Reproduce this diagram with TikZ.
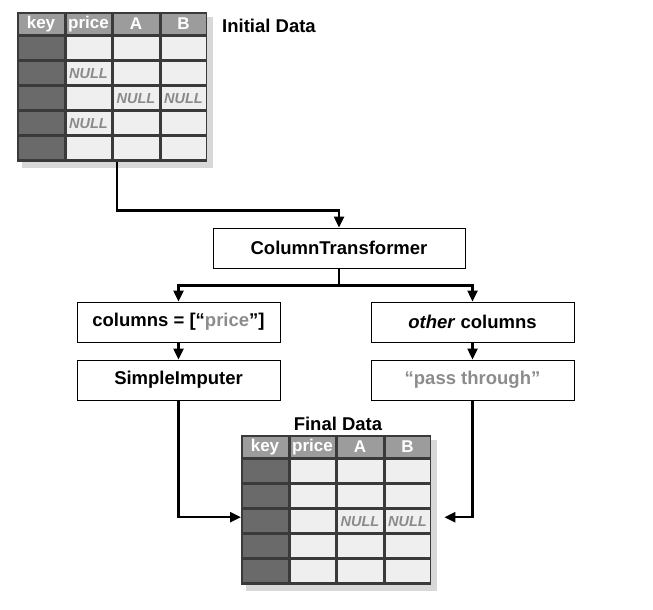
\documentclass[tikz,border=0pt]{standalone}
\usepackage{fontspec}
\setmainfont{Liberation Sans}
\usetikzlibrary{arrows.meta}
\definecolor{framec}{HTML}{3A3A3A}
\definecolor{keyc}{HTML}{6A6A6A}
\definecolor{headc}{HTML}{9C9C9C}
\definecolor{cellc}{HTML}{EFEFEF}
\definecolor{shadowc}{HTML}{D8D8D8}
\definecolor{nullc}{HTML}{8A8A8A}
\definecolor{quotec}{HTML}{8C8C8C}
\tikzset{
  hdr/.style={text=white,font=\fontsize{17}{19}\selectfont\bfseries,inner sep=0},
  nulltxt/.style={text=nullc,font=\fontsize{14.5}{16}\selectfont\bfseries\itshape,inner sep=0},
  title/.style={font=\fontsize{18.5}{21}\selectfont\bfseries,inner sep=0},
  box/.style={draw,line width=1pt,minimum height=40pt,inner sep=0,font=\fontsize{18.5}{21}\selectfont\bfseries},
  conn/.style={line width=2.4pt,-{Triangle[width=10pt,length=11pt]}},
}
\newcommand\datatable[4]{%
 \begin{scope}[shift={(#2,#3)}]
  \fill[shadowc] (5,5) rectangle (196,156);
  \node[fill=framec,inner sep=0,minimum width=190pt,minimum height=150pt,anchor=north west] (#1) at (0,0) {};
  \foreach \xa/\xb [count=\c] in {0/48,48/95,95/143,143/190} {
    \fill[headc] (\xa+2,2) rectangle (\xb-1.5,22);
    \foreach \r in {0,...,4} {
      \ifnum\c=1
        \fill[keyc] (\xa+2,25+25*\r) rectangle (\xb-1.5,47+25*\r);
      \else
        \fill[cellc] (\xa+2,25+25*\r) rectangle (\xb-1.5,47+25*\r);
      \fi
    }
  }
  \node[hdr] (#1-hkey) at (24,12) {key};
  \node[hdr] (#1-hprice) at (71.5,12) {price};
  \node[hdr] (#1-hA) at (119,12) {A};
  \node[hdr] (#1-hB) at (166.5,12) {B};
  \foreach \cx/\r [count=\k] in {#4} {
    \node[nulltxt] (#1-null\k) at (\cx,11.5+25*\r) {NULL};
  }
 \end{scope}}
\begin{document}
\begin{tikzpicture}[x=1pt,y=-1pt]
\useasboundingbox (0,0) rectangle (653,610);
\fill[white] (0,0) rectangle (653,610);

\datatable{init}{17}{12}{71.5/2,119/3,166.5/3,71.5/4}
\node[title,anchor=west] (inittitle) at (222,26) {Initial Data};

\node[box,minimum width=252pt] (ct) at (339,248) {ColumnTransformer};
\node[box,minimum width=203pt] (cols) at (178.5,322) {columns = [“\textcolor{quotec}{price}”]};
\node[box,minimum width=203pt] (other) at (472.5,322) {\textit{other} columns};
\node[box,minimum width=203pt] (imp) at (178.5,380) {SimpleImputer};
\node[box,minimum width=203pt] (pass) at (472.5,380) {\textcolor{quotec}{“pass through”}};

\datatable{final}{241}{435}{119/3,166.5/3}
\node[title] (finaltitle) at (338,424) {Final Data};

\draw[conn] ([xshift=5pt]init.south) -- ++(0,48) -| (ct.north);
\draw[conn] (ct.south) -- ++(0,17) -| (cols.north);
\draw[conn] (ct.south) -- ++(0,17) -| (other.north);
\draw[conn] (cols.south) -- (imp.north);
\draw[conn] (other.south) -- (pass.north);
\draw[conn] (imp.south) |- ([yshift=-7pt]final.west);
\draw[conn] (pass.south) |- ([xshift=13pt,yshift=-7pt]final.east);
\end{tikzpicture}
\end{document}
